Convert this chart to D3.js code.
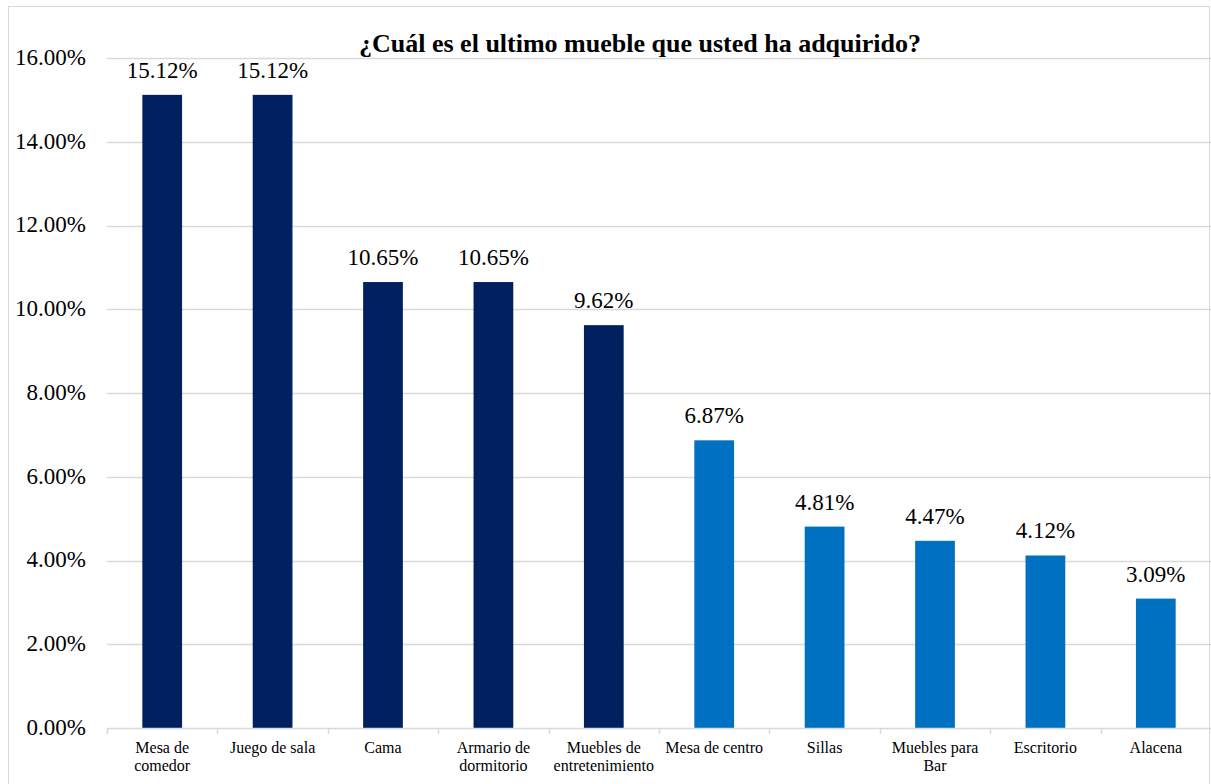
<!DOCTYPE html>
<html>
<head>
<meta charset="utf-8">
<script src="https://cdn.jsdelivr.net/npm/d3@7"></script>
</head>
<body style="margin:0;background:#fff">
<svg id="chart" width="1211" height="784" style="display:block"></svg>
<script>
// Survey answers: last piece of furniture purchased
const categories = [
  "Mesa de comedor", "Juego de sala", "Cama", "Armario de dormitorio",
  "Muebles de entretenimiento", "Mesa de centro", "Sillas",
  "Muebles para Bar", "Escritorio", "Alacena"
];
const values = [15.12, 15.12, 10.65, 10.65, 9.62, 6.87, 4.81, 4.47, 4.12, 3.09];
const groups = ["top", "top", "top", "top", "top", "rest", "rest", "rest", "rest", "rest"];
const yTicks = [0, 2, 4, 6, 8, 10, 12, 14, 16];
const title = "¿Cuál es el ultimo mueble que usted ha adquirido?";

const colors = { top: "#002060", rest: "#0070C0" };
const FONT = "Liberation Serif";

const W = 1211, H = 784;
const margin = { left: 107, right: 0, top: 58, bottom: 56 };

const svg = d3.select("#chart");

// chart frame
svg.append("rect")
  .attr("x", 8.5).attr("y", 6.5)
  .attr("width", 1201).attr("height", 790)
  .attr("fill", "#fff")
  .attr("stroke", "#d9d9d9").attr("stroke-width", 1);

const x = d3.scaleBand()
  .domain(categories)
  .range([margin.left, W - margin.right])
  .paddingInner(0.64).paddingOuter(0.32);

const y = d3.scaleLinear()
  .domain([0, 16])
  .range([H - margin.bottom, margin.top]);

// gridlines
svg.append("g")
  .selectAll("line")
  .data(yTicks.filter(d => d > 0))
  .join("line")
  .attr("x1", margin.left).attr("x2", W - margin.right)
  .attr("y1", d => Math.round(y(d)) + 0.5).attr("y2", d => Math.round(y(d)) + 0.5)
  .attr("stroke", "#d9d9d9").attr("stroke-width", 1.5);

// y axis labels
const yAxis = svg.append("g")
  .attr("transform", `translate(${margin.left},0)`)
  .call(d3.axisLeft(y).tickValues(yTicks).tickSize(0).tickPadding(21)
    .tickFormat(d => d.toFixed(2) + "%"));
yAxis.attr("font-family", null).attr("font-size", null);
yAxis.select(".domain").remove();
yAxis.selectAll("text")
  .style("font-size", "23px")
  .style("font-family", FONT)
  .attr("dy", "0.28em")
  .attr("fill", "#000");

// bars
svg.append("g")
  .selectAll("rect")
  .data(categories)
  .join("rect")
  .attr("x", d => x(d))
  .attr("width", x.bandwidth())
  .attr("y", (d, i) => y(values[i]))
  .attr("height", (d, i) => y(0) - y(values[i]))
  .attr("fill", (d, i) => colors[groups[i]]);

// value labels
svg.append("g")
  .selectAll("text")
  .data(categories)
  .join("text")
  .attr("x", d => x(d) + x.bandwidth() / 2)
  .attr("y", (d, i) => y(values[i]) - 17)
  .attr("text-anchor", "middle")
  .style("font-family", FONT)
  .style("font-size", "23px")
  .attr("fill", "#000")
  .text((d, i) => values[i].toFixed(2) + "%");

// x axis with band boundary ticks
const step = x.step();
const xAxisG = svg.append("g").attr("transform", `translate(0,${y(0)})`);
xAxisG.append("line")
  .attr("x1", margin.left).attr("x2", W)
  .attr("y1", 0.5).attr("y2", 0.5)
  .attr("stroke", "#d9d9d9").attr("stroke-width", 1.5);
xAxisG.selectAll("line.tick")
  .data(d3.range(categories.length + 1))
  .join("line")
  .attr("class", "tick")
  .attr("x1", i => Math.round(margin.left + i * step) + 0.5)
  .attr("x2", i => Math.round(margin.left + i * step) + 0.5)
  .attr("y1", 0).attr("y2", 6)
  .attr("stroke", "#d9d9d9").attr("stroke-width", 1.5);

// category labels, wrapped to fit
const catLabels = xAxisG.selectAll("text.cat")
  .data(categories)
  .join("text")
  .attr("class", "cat")
  .attr("text-anchor", "middle")
  .style("font-family", FONT)
  .style("font-size", "16px")
  .attr("fill", "#000")
  .attr("x", d => x(d) + x.bandwidth() / 2)
  .attr("y", 25);

catLabels.each(function(d) {
  const t = d3.select(this);
  const cx = +t.attr("x");
  const words = d.split(" ");
  let line = [];
  let tspan = t.append("tspan").attr("x", cx).attr("dy", 0);
  for (const w of words) {
    line.push(w);
    tspan.text(line.join(" "));
    if (tspan.node().getComputedTextLength() > 105 && line.length > 1) {
      line.pop();
      tspan.text(line.join(" "));
      line = [w];
      tspan = t.append("tspan").attr("x", cx).attr("dy", "17.5").text(w);
    }
  }
});

// title
svg.append("text")
  .attr("x", 640).attr("y", 52)
  .attr("text-anchor", "middle")
  .style("font-family", FONT)
  .style("font-size", "26px")
  .style("font-weight", "bold")
  .attr("fill", "#000")
  .text(title);
</script>
</body>
</html>
